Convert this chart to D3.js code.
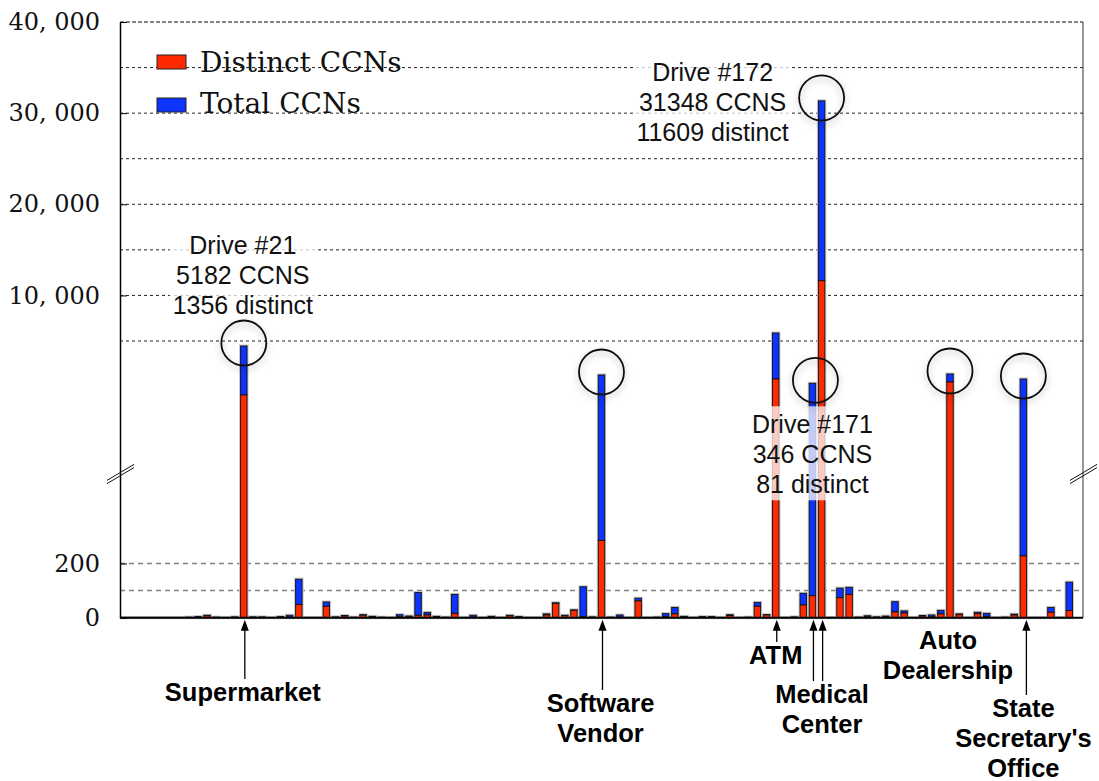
<!DOCTYPE html>
<html><head><meta charset="utf-8">
<script src="https://cdn.jsdelivr.net/npm/d3@7"></script>
<style>body{margin:0;background:#fff}</style>
</head><body>
<script>
// ---------------- DATA ----------------
const totalCCNs = [
  1,1,1,1,1,1,1,2,4,9,
  2,1,3,4832,3,3,1,4,9,142,
  1,1,58,3,8,2,11,5,2,1,
  11,6,93,19,5,2,86,1,9,1,
  5,1,9,4,1,1,14,55,9,29,
  114,3,3858,2,10,1,72,1,2,15,
  38,5,1,4,4,1,11,1,2,56,
  11,5879,1,3,90,3579,31348,1,109,112,
  2,7,3,6,59,25,1,8,10,27,
  3891,14,1,20,16,1,2,13,3723,1,
  1,38,1,131,0
];
const distinctCCNs = [
  0,0,0,0,0,0,0,1,2,7,
  1,0,1,3186,1,1,0,2,2,49,
  0,0,42,1,6,1,9,2,1,0,
  3,5,9,10,2,1,16,0,2,0,
  4,0,7,2,0,0,10,53,7,27,
  3,1,285,1,2,0,62,0,1,3,
  14,4,0,3,3,0,8,0,1,42,
  10,3723,0,1,47,81,11609,0,74,86,
  1,5,1,3,21,17,0,6,3,14,
  3622,11,0,15,5,0,1,10,228,0,
  0,20,0,26,0
];
const drives = distinctCCNs.map((d, i) => i);
const yTickValues = [0, 200, 10000, 20000, 30000, 40000];
const lowerGridValues = [100, 200];
const upperGridValues = [5000, 10000, 15000, 20000, 25000, 30000, 35000];
const seriesNames = ["Distinct CCNs", "Total CCNs"];
const calloutBars = [13, 76, 75];
const calloutTexts = [
  ["Drive #21", "5182 CCNS", "1356 distinct"],
  ["Drive #172", "31348 CCNS", "11609 distinct"],
  ["Drive #171", "346 CCNS", "81 distinct"]
];
const circledBars = [13, 52, 76, 75, 90, 98];
const siteBars = [[13], [52], [71], [75, 76], [90], [98]];
const siteNames = [
  ["Supermarket"],
  ["Software", "Vendor"],
  ["ATM"],
  ["Medical", "Center"],
  ["Auto", "Dealership"],
  ["State", "Secretary's", "Office"]
];

// ---------------- LAYOUT ----------------
const W = 1099, H = 781;
const X0 = 120, X1 = 1083, Y0 = 617.7, YT = 22;
const RED = "#ff2a00", BLUE = "#0d33ff";

const svg = d3.select("body").append("svg").attr("width", W).attr("height", H);
const defs = svg.append("defs");
const f = defs.append("filter").attr("id", "sh").attr("x", "-50%").attr("y", "-50%").attr("width", "200%").attr("height", "200%");
f.append("feDropShadow").attr("dx", 0).attr("dy", 3).attr("stdDeviation", 3.5).attr("flood-color", "#000").attr("flood-opacity", 0.3);

const x = d3.scaleBand().domain(drives).range([X0, X1]).paddingInner(0.3).paddingOuter(0.15);
// broken axis: lower linear part, compressed break, upper linear part
const y = d3.scaleLinear().domain([0, 530, 5000, 40000]).range([Y0, 474, 341, YT]);
const cx = i => x(i) + x.bandwidth() / 2;

// gridlines
svg.append("g").selectAll("line").data(upperGridValues).join("line")
  .attr("x1", X0).attr("x2", X1).attr("y1", d => y(d)).attr("y2", d => y(d))
  .attr("stroke", "#222").attr("stroke-width", 1).attr("stroke-dasharray", "3,3");
svg.append("g").selectAll("line").data(lowerGridValues).join("line")
  .attr("x1", X0).attr("x2", X1).attr("y1", d => y(d)).attr("y2", d => y(d))
  .attr("stroke", "#808080").attr("stroke-width", 1.5).attr("stroke-dasharray", "5,4");
// top border
svg.append("line").attr("x1", X0).attr("x2", X1).attr("y1", y(40000)).attr("y2", y(40000))
  .attr("stroke", "#111").attr("stroke-width", 1.2).attr("stroke-dasharray", "4,2");
// right border
svg.append("line").attr("x1", X1).attr("x2", X1).attr("y1", y(40000)).attr("y2", Y0)
  .attr("stroke", "#333").attr("stroke-width", 1);

// legend
const lg = svg.append("g");
[RED, BLUE].forEach((c, k) => {
  lg.append("rect").attr("x", 157).attr("y", 55 + k * 43).attr("width", 29).attr("height", 14)
    .attr("fill", c).attr("stroke", "#222").attr("stroke-width", 1);
  lg.append("text").attr("x", 200).attr("y", 72 + k * 41).text(seriesNames[k])
    .attr("font-family", "DejaVu Serif").attr("font-size", 28).attr("fill", "#111");
});

// bars
const bars = svg.append("g");
bars.selectAll("rect.halo").data(drives).join("rect").attr("class", "halo")
  .attr("x", d => x(d)).attr("width", x.bandwidth())
  .attr("y", d => y(totalCCNs[d])).attr("height", d => Y0 - y(totalCCNs[d]))
  .attr("fill", "none").attr("stroke", "#c4c4c4").attr("stroke-width", 3);
bars.selectAll("rect.tot").data(drives).join("rect").attr("class", "tot")
  .attr("x", d => x(d)).attr("width", x.bandwidth())
  .attr("y", d => y(totalCCNs[d])).attr("height", d => y(distinctCCNs[d]) - y(totalCCNs[d]))
  .attr("fill", BLUE).attr("stroke", "#111").attr("stroke-width", 0.9);
bars.selectAll("rect.dis").data(drives).join("rect").attr("class", "dis")
  .attr("x", d => x(d)).attr("width", x.bandwidth())
  .attr("y", d => y(distinctCCNs[d])).attr("height", d => Y0 - y(distinctCCNs[d]))
  .attr("fill", RED).attr("stroke", "#111").attr("stroke-width", 0.9);

// axis
const ax = svg.append("g").attr("transform", `translate(${X0},0)`)
  .call(d3.axisLeft(y).tickValues(yTickValues).tickSizeInner(-7).tickSizeOuter(0).tickPadding(20)
    .tickFormat(d => d3.format(",")(d).replace(",", ", ")));
ax.select(".domain").attr("stroke", "#000").attr("stroke-width", 1.5);
ax.selectAll(".tick line").attr("stroke", "#000");
ax.selectAll(".tick text").attr("font-family", "DejaVu Serif").attr("font-size", 24).attr("fill", "#111");

// baseline
svg.append("line").attr("x1", X0).attr("x2", X1).attr("y1", Y0).attr("y2", Y0)
  .attr("stroke", "#000").attr("stroke-width", 2);

// axis break marks
const yb = y(530);
[X0, X1].forEach(ax0 => {
  [-1.6, 1.6].forEach(o => {
    svg.append("line").attr("x1", ax0 - 13).attr("y1", yb + 8 + o).attr("x2", ax0 + 14).attr("y2", yb - 8 + o)
      .attr("stroke", "#111").attr("stroke-width", 1);
  });
});

// callouts (semi-transparent text boxes)
const calloutLayout = [{dx: -1, dy: -92}, {dx: -109, dy: -20}, {dx: 0, dy: 50}];
calloutBars.forEach((b, k) => {
  const g = svg.append("g");
  const tx = cx(b) + calloutLayout[k].dx, ty = y(totalCCNs[b]) + calloutLayout[k].dy;
  const t = g.append("text").attr("text-anchor", "middle").attr("font-family", "Liberation Sans")
    .attr("font-size", 25).attr("fill", "#111");
  calloutTexts[k].forEach((s, j) => t.append("tspan").attr("x", tx).attr("y", ty + j * 30).text(s));
  const bb = t.node().getBBox();
  g.insert("rect", "text").attr("x", bb.x - 3).attr("y", bb.y - 4).attr("width", bb.width + 6).attr("height", bb.height + 6)
    .attr("fill", "#fff").attr("fill-opacity", 0.75);
});

// circles
svg.append("g").selectAll("circle").data(circledBars).join("circle")
  .attr("cx", d => cx(d) + (d === 75 ? 3 : 0)).attr("cy", d => y(totalCCNs[d]) - 3).attr("r", 22.5)
  .attr("fill", "none").attr("stroke", "#111").attr("stroke-width", 1.8).attr("filter", "url(#sh)");

// site labels with arrows
const siteLayout = [
  {dx: -1, base: 701, arrow: true},
  {dx: -1, base: 712, arrow: true},
  {dx: 0, base: 664, arrow: true},
  {dx: 5, base: 703, arrow: true},
  {dx: -2, base: 649, arrow: false},
  {dx: 0, base: 717, arrow: true}
];
siteBars.forEach((bs, k) => {
  const L = siteLayout[k];
  const mx = d3.mean(bs, cx) + L.dx;
  const t = svg.append("text").attr("text-anchor", "middle").attr("font-family", "Liberation Sans")
    .attr("font-weight", "bold").attr("font-size", 25.5).attr("fill", "#000");
  siteNames[k].forEach((s, j) => t.append("tspan").attr("x", mx).attr("y", L.base + j * 30).text(s));
  if (L.arrow) {
    bs.forEach(b => {
      const ax1 = cx(b) + (k === 5 ? 3 : 1);
      svg.append("line").attr("x1", ax1).attr("x2", ax1).attr("y1", L.base - 22).attr("y2", Y0 + 10)
        .attr("stroke", "#000").attr("stroke-width", 1.3);
      svg.append("path").attr("d", `M${ax1},${Y0 + 2} L${ax1 - 4},${Y0 + 13} L${ax1 + 4},${Y0 + 13} Z`).attr("fill", "#000");
    });
  }
});
</script>
</body></html>
